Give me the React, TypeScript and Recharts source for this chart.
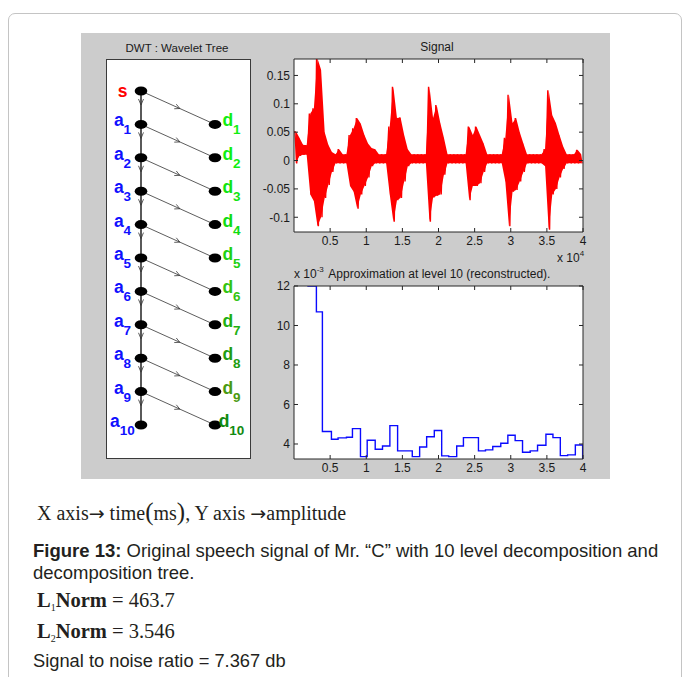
import React from 'react'
import {
  ComposedChart, LineChart, Line, Area, XAxis, YAxis, CartesianGrid, ScatterChart, Scatter, ReferenceLine,
} from 'recharts'

const SANS = '"Liberation Sans", Arial, sans-serif'
const SERIF = '"Liberation Serif", "Times New Roman", serif'
const AXIS = '#262626'
const INK = '#1a1a1a'

// time axis of both plots, in units of 10^4 samples
const timeTicks = [0.5, 1, 1.5, 2, 2.5, 3, 3.5, 4]

// Signal: upper / lower envelope read per 0.05 bin
const signalBin = 0.05
const signalTop = [
  0.052, 0.04, 0.028, 0.027, 0.083, 0.092, 0.18, 0.16, 0.05, 0.028,
  0.015, 0.011, 0.02, 0.011, 0.011, 0.045, 0.057, 0.075, 0.065, 0.045,
  0.03, 0.022, 0.02, 0.011, 0.011, 0.011, 0.06, 0.13, 0.075, 0.076,
  0.045, 0.02, 0.011, 0.011, 0.011, 0.011, 0.011, 0.13, 0.075, 0.098,
  0.066, 0.04, 0.011, 0.011, 0.011, 0.011, 0.011, 0.011, 0.06, 0.045,
  0.06, 0.045, 0.03, 0.011, 0.011, 0.011, 0.011, 0.011, 0.04, 0.116,
  0.066, 0.075, 0.05, 0.03, 0.011, 0.011, 0.011, 0.011, 0.011, 0.02,
  0.124, 0.08, 0.066, 0.045, 0.025, 0.011, 0.011, 0.011, 0.019, 0.011,
]
const signalBottom = [
  -0.005, 0.008, 0.01, 0.01, -0.06, -0.072, -0.116, -0.1, -0.066, -0.043,
  -0.02, -0.005, -0.005, -0.005, -0.005, -0.045, -0.055, -0.085, -0.06, -0.045,
  -0.03, -0.01, -0.005, -0.005, -0.005, -0.005, -0.06, -0.108, -0.07, -0.066,
  -0.037, -0.01, -0.005, -0.005, -0.005, -0.005, -0.005, -0.108, -0.065, -0.062,
  -0.06, -0.025, -0.005, -0.005, -0.005, -0.005, -0.005, -0.005, -0.07, -0.045,
  -0.045, -0.04, -0.02, -0.005, -0.005, -0.005, -0.005, -0.005, -0.037, -0.116,
  -0.055, -0.052, -0.037, -0.02, -0.005, -0.005, -0.005, -0.005, -0.005, -0.01,
  -0.122, -0.06, -0.05, -0.03, -0.015, -0.005, -0.005, -0.005, -0.005, -0.005,
]
const signalTicks = [-0.1, -0.05, 0, 0.05, 0.1, 0.15]

// Approximation at level 10 (x 10^-3), step start positions and levels
const approxEdges = [
  0, 0.1, 0.194, 0.31, 0.393, 0.518, 0.61, 0.726, 0.809, 0.92,
  1.013, 1.124, 1.225, 1.327, 1.434, 1.637, 1.739, 1.836, 1.942, 2.044,
  2.141, 2.252, 2.345, 2.553, 2.65, 2.751, 2.862, 2.96, 3.061, 3.163,
  3.269, 3.371, 3.487, 3.584, 3.686, 3.787, 3.894, 3.995,
]
const approxLevels = [
  13.6, 12.6, 12.0, 10.69, 4.63, 4.24, 4.31, 4.34, 4.78, 3.36,
  4.19, 3.73, 3.9, 4.93, 3.65, 3.36, 3.85, 4.37, 4.68, 3.4,
  3.36, 3.9, 4.32, 3.65, 3.7, 3.87, 4.04, 4.44, 4.17, 3.58,
  3.65, 3.94, 4.49, 4.32, 3.41, 3.45, 3.95, 3.0,
]
const approxTicks = [4, 6, 8, 10, 12]

// wavelet tree
const approxNodes = ['s', 'a1', 'a2', 'a3', 'a4', 'a5', 'a6', 'a7', 'a8', 'a9', 'a10']
const detailNodes = ['d1', 'd2', 'd3', 'd4', 'd5', 'd6', 'd7', 'd8', 'd9', 'd10']
const detailColors = [
  '#11ee11', '#11ee11', '#11e411', '#11dc11', '#22d011',
  '#33c411', '#22b011', '#229c11', '#4a9a11', '#118a11',
]

const tickStyle = { fontSize: 12, fill: INK, fontFamily: SANS }
const blank = () => ''

function NodeShape(props: any) {
  const { cx, cy, payload } = props
  const name: string = payload.name
  const isDetail = payload.col === 1
  const main = name[0]
  const sub = name.slice(1)
  const color = name === 's' ? '#ff0000' : isDetail ? detailColors[payload.level - 1] : '#1010ff'
  const lx = isDetail ? cx + 16.5 : cx - 18.5
  return (
    <g>
      <ellipse cx={cx} cy={cy} rx={6.3} ry={4.5} fill="#000" />
      <text
        x={lx}
        y={sub ? cy + 2 : cy + 5.5}
        textAnchor="middle"
        fontFamily={SANS}
        fontWeight="bold"
        fontSize={17.5}
        fill={color}
      >
        {main}
        {sub && <tspan fontSize={13.5} dy={8}>{sub}</tspan>}
      </text>
    </g>
  )
}

function EdgeShape(props: any) {
  const { x1, y1, x2, y2 } = props
  const dx = x2 - x1
  const dy = y2 - y1
  const len = Math.hypot(dx, dy) || 1
  const ux = dx / len
  const uy = dy / len
  const vertical = Math.abs(dx) < 0.5
  const tipX = vertical ? x1 : x1 + dx * 0.5 + ux * 2
  const tipY = vertical ? y1 + 14 : y1 + dy * 0.5 + uy * 2
  const back = vertical ? 6 : 5
  const nx = -uy
  const ny = ux
  const a = `${tipX - ux * back + nx * 2.5},${tipY - uy * back + ny * 2.5}`
  const b = `${tipX - ux * back - nx * 2.5},${tipY - uy * back - ny * 2.5}`
  return (
    <g>
      <line x1={x1} y1={y1} x2={x2} y2={y2} stroke={vertical ? '#000' : '#333'} strokeWidth={vertical ? 1.3 : 0.8} />
      <polyline points={`${a} ${tipX},${tipY} ${b}`} fill="none" stroke="#333" strokeWidth={0.8} />
    </g>
  )
}

function WaveletTree() {
  const left = approxNodes.map((name, i) => ({ col: 0, level: i, name }))
  const right = detailNodes.map((name, i) => ({ col: 1, level: i + 1, name }))
  return (
    <ScatterChart width={145} height={400} margin={{ top: 32, right: 36, bottom: 34, left: 35 }}>
      <XAxis type="number" dataKey="col" domain={[0, 1]} hide />
      <YAxis type="number" dataKey="level" domain={[0, 10]} reversed hide />
      {right.map((d) => (
        <ReferenceLine
          key={'v' + d.level}
          segment={[{ x: 0, y: d.level - 1 }, { x: 0, y: d.level }]}
          shape={EdgeShape}
        />
      ))}
      {right.map((d) => (
        <ReferenceLine
          key={'d' + d.level}
          segment={[{ x: 0, y: d.level - 1 }, { x: 1, y: d.level }]}
          shape={EdgeShape}
        />
      ))}
      <Scatter data={left} shape={NodeShape} isAnimationActive={false} />
      <Scatter data={right} shape={NodeShape} isAnimationActive={false} />
    </ScatterChart>
  )
}

function SignalPlot() {
  // zigzag through the envelope for the waveform texture
  const wave: { t: number; v: number }[] = []
  signalTop.forEach((top, i) => {
    wave.push({ t: i * signalBin + signalBin * 0.25, v: top })
    wave.push({ t: i * signalBin + signalBin * 0.75, v: signalBottom[i] })
  })
  // filled envelope for the dense body
  const body = signalTop.map((top, i) => ({ t: i * signalBin + signalBin * 0.5, range: [signalBottom[i], top] }))
  const dom: [number, number] = [-0.126, 0.179]
  return (
    <ComposedChart width={360} height={240} margin={{ top: 0, right: 0, bottom: 0, left: 0 }}>
      <CartesianGrid xAxisId="b" yAxisId="l" horizontal={false} vertical={false} fill="#fff" />
      <XAxis xAxisId="b" type="number" dataKey="t" domain={[0, 4]} ticks={timeTicks} interval={0}
        allowDataOverflow height={38} tickSize={-4} tickMargin={8.5} stroke={AXIS} tick={tickStyle} />
      <XAxis xAxisId="t" orientation="top" type="number" dataKey="t" domain={[0, 4]} ticks={timeTicks} interval={0}
        allowDataOverflow height={29} tickSize={-4} tickFormatter={blank} stroke={AXIS} />
      <YAxis yAxisId="l" type="number" domain={dom} ticks={signalTicks} interval={0}
        allowDataOverflow width={44} tickSize={-4} tickMargin={8} stroke={AXIS} tick={tickStyle} />
      <YAxis yAxisId="r" orientation="right" type="number" domain={dom} ticks={signalTicks} interval={0}
        allowDataOverflow width={27} tickSize={-4} tickFormatter={blank} stroke={AXIS} />
      <Line data={wave} xAxisId="t" yAxisId="r" dataKey="v" stroke="none" dot={false} activeDot={false}
        isAnimationActive={false} />
      <Area data={body} xAxisId="b" yAxisId="l" dataKey="range" type="linear" stroke="none"
        fill="#ff0000" fillOpacity={1} isAnimationActive={false} activeDot={false} />
      <Line data={wave} xAxisId="b" yAxisId="l" dataKey="v" stroke="#ff0000" strokeWidth={1.4}
        strokeLinejoin="bevel" dot={false} activeDot={false} isAnimationActive={false} type="linear" />
    </ComposedChart>
  )
}

function ApproxPlot() {
  const data = approxEdges.map((t, i) => ({ t, v: approxLevels[i] }))
  data.push({ t: 4, v: approxLevels[approxLevels.length - 1] })
  const dom: [number, number] = [3.24, 12]
  return (
    <LineChart width={360} height={230} data={data} margin={{ top: 0, right: 0, bottom: 0, left: 0 }}>
      <CartesianGrid xAxisId="b" yAxisId="l" horizontal={false} vertical={false} fill="#fff" />
      <XAxis xAxisId="b" type="number" dataKey="t" domain={[0, 4]} ticks={timeTicks} interval={0}
        allowDataOverflow height={26} tickSize={-4} tickMargin={8.5} stroke={AXIS} tick={tickStyle} />
      <XAxis xAxisId="t" orientation="top" type="number" dataKey="t" domain={[0, 4]} ticks={timeTicks} interval={0}
        allowDataOverflow height={31} tickSize={-4} tickFormatter={blank} stroke={AXIS} />
      <YAxis yAxisId="l" type="number" domain={dom} ticks={approxTicks} interval={0}
        allowDataOverflow width={44} tickSize={-4} tickMargin={8} stroke={AXIS} tick={tickStyle} />
      <YAxis yAxisId="r" orientation="right" type="number" domain={dom} ticks={approxTicks} interval={0}
        allowDataOverflow width={27} tickSize={-4} tickFormatter={blank} stroke={AXIS} />
      <Line xAxisId="t" yAxisId="r" dataKey="v" stroke="none" dot={false} activeDot={false}
        isAnimationActive={false} />
      <Line xAxisId="b" yAxisId="l" dataKey="v" stroke="#0a0aff" strokeWidth={1.4} dot={false}
        activeDot={false} isAnimationActive={false} type="stepAfter" />
    </LineChart>
  )
}

export default function App() {
  const arrow = { fontFamily: '"DejaVu Sans", sans-serif', fontSize: 19 }
  return (
    <div style={{ position: 'absolute', left: 0, top: 0, width: 683, height: 677, overflow: 'hidden', background: '#fff' }}>
      <div style={{ position: 'absolute', left: 8, top: 13, width: 674, height: 720, border: '1px solid #c4c4c4', borderRadius: 7, boxSizing: 'border-box' }} />
      <div style={{ position: 'absolute', left: 81, top: 33, width: 529, height: 446, background: '#cccccc' }} />
      <div style={{ position: 'absolute', left: 106, top: 59, width: 145, height: 400, background: '#fff', border: '1px solid #3a3a3a', boxSizing: 'border-box' }} />
      <div style={{ position: 'absolute', left: 106, top: 59 }}>
        <WaveletTree />
      </div>
      <div style={{ position: 'absolute', left: 250, top: 30 }}>
        <SignalPlot />
      </div>
      <div style={{ position: 'absolute', left: 250, top: 255 }}>
        <ApproxPlot />
      </div>
      <svg style={{ position: 'absolute', left: 0, top: 0 }} width={683} height={677}>
        <g fontFamily={SANS} fill={INK} fontSize={12}>
          <text x={177} y={51.5} textAnchor="middle" fontSize={11.5}>DWT : Wavelet Tree</text>
          <text x={437} y={51} textAnchor="middle">Signal</text>
          <text x={557} y={262}>x 10<tspan fontSize={8} dy={-6}>4</tspan></text>
          <text x={294} y={277.7}>x 10<tspan fontSize={8} dy={-6}>-3</tspan></text>
          <text x={328.3} y={277.7}>Approximation at level 10 (reconstructed).</text>
        </g>
        <g fill="#231f20">
          <text x={37} y={520} fontFamily={SERIF} fontSize={20}>
            X axis<tspan {...arrow}>→</tspan> time<tspan fontSize={25}>(</tspan>ms<tspan fontSize={25}>)</tspan>, Y axis <tspan {...arrow}>→</tspan>amplitude
          </text>
          <text x={33} y={557} fontFamily={SANS} fontSize={18.5}>
            <tspan fontWeight="bold">Figure 13:</tspan> Original speech signal of Mr. “C” with 10 level decomposition and
          </text>
          <text x={33} y={579} fontFamily={SANS} fontSize={18.5}>decomposition tree.</text>
          <text x={37} y={607} fontFamily={SERIF} fontSize={20.5}>
            <tspan fontWeight="bold">L</tspan><tspan fontSize={10} dy={4}>1</tspan><tspan dy={-4} fontWeight="bold">Norm</tspan> = 463.7
          </text>
          <text x={37} y={638} fontFamily={SERIF} fontSize={20.5}>
            <tspan fontWeight="bold">L</tspan><tspan fontSize={10} dy={4}>2</tspan><tspan dy={-4} fontWeight="bold">Norm</tspan> = 3.546
          </text>
          <text x={33} y={667} fontFamily={SANS} fontSize={18.3}>Signal to noise ratio = 7.367 db</text>
        </g>
      </svg>
    </div>
  )
}
